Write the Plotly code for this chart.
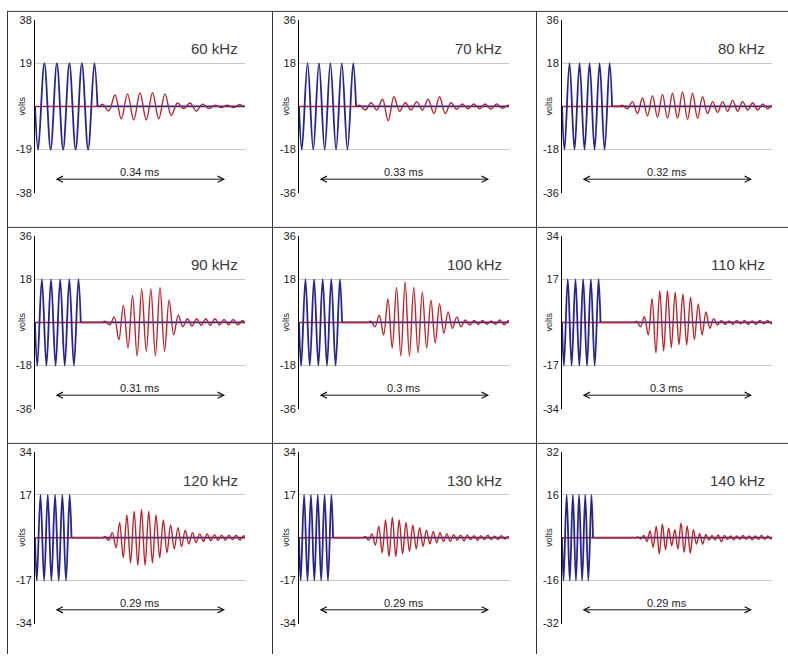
import plotly.graph_objects as go

# ---------------- data ----------------
freqs_khz = [60, 70, 80, 90, 100, 110, 120, 130, 140]
y_limits = [38, 36, 36, 36, 36, 34, 34, 34, 32]
y_half = ["19", "18", "18", "18", "18", "17", "17", "17", "16"]
delay_labels = ["0.34 ms", "0.33 ms", "0.32 ms", "0.31 ms", "0.3 ms", "0.3 ms", "0.29 ms", "0.29 ms", "0.29 ms"]
window_us = [280, 263, 262, 255, 244, 248, 240, 237, 242]
red_start_cycles = [5.4, 5.32, 6.03, 7.66, 8.33, 9.7, 9.6, 9.7, 12.2]

# transmitted burst: half-cycle peak values (volts)
blue_60 = [-19, 19, -19, 19, -19, 19, -19, 19, -19, 19]
blue_70 = [-18, 18, -18, 18, -18, 18, -18, 18, -18, 18]
blue_80 = [-18, 18, -18, 18, -18, 18, -18, 18, -18, 18]
blue_90 = [-18, 18, -18, 18, -18, 18, -18, 18, -18, 18]
blue_100 = [-18, 18, -18, 18, -18, 18, -18, 18, -18, 18]
blue_110 = [-17, 17, -17, 17, -17, 17, -17, 17, -17, 17]
blue_120 = [-17, 17, -17, 17, -17, 17, -17, 17, -17, 17]
blue_130 = [-17, 17, -17, 17, -17, 17, -17, 17, -17, 17]
blue_140 = [-16, 16, -16, 16, -16, 16, -16, 16, -16, 16]

# received signal: half-cycle peak values (volts)
red_60 = [1, -2, 5, -5.5, 5.5, -6, 6, -6, 6, -5.5, 5.5, -4, 1.5, -1, 1.5, -2, 1, -1, 0.5, -0.5, 0.5, -0.5, 0.8]
red_70 = [0.5, -1.5, 1.5, -1.5, 3, -6, 4, -2, 1.5, -1.5, 2, -1.5, 3, -3, 4, -3, 1.5, -1.2, 1, -1, 1, -1, 1, -1.2, 1, -0.8, 0.5]
red_80 = [0.5, -1, 2, -3, 3.5, -4, 4.5, -4.5, 5, -5, 5.5, -5, 6, -5.5, 5.5, -5, 4, -3, 2, -2.5, 2, -2, 2.5, -2, 2,
          -1.5, 1.5, -1.5, 1, -1, 0.5]
red_90 = [0.5, -1, 2.3, -7.2, 7.1, -10.7, 11.2, -14, 13.9, -12, 13.9, -14, 14.6, -12, 9.2, -5.2, 3, -1.8, 1.5, -1.5,
          1.5, -1.2, 1.5, -1.2, 1.5, -1, 1.2, -1, 1.2, -1, 0.8]
red_100 = [0.5, -1.8, 3, -5.2, 9.8, -10.7, 14.6, -14, 16.7, -14, 14.6, -12.7, 12.6, -10.7, 9.2, -8.6, 7.8, -4.5, 4.4,
           -2.5, 2.3, -1.8, 1, -1.1, 0.8, -0.8, 0.8, -0.8, 0.6, -0.8, 1, -1, 0.8]
red_110 = [0.5, -1.7, 2.2, -4.9, 9.3, -12, 12.5, -11.3, 12.5, -10, 11.9, -8.8, 11.2, -8.8, 9.9, -6.8, 7.3, -4.9, 4.1,
           -2.3, 1.5, -1, 0.8, -0.8, 0.6, -0.8, 0.8, -0.6, 0.8, -0.8, 0.6, -0.8, 0.8, -0.6, 0.8, -0.5]
red_120 = [0.5, -1, 2, -4, 6, -8, 9, -10, 10.5, -11, 11.3, -11, 10.5, -10, 9, -8, 7, -6, 5, -4.5, 4, -3.5, 3, -2.5,
           2, -2, 1.5, -1.5, 1.5, -1.2, 1.2, -1, 1, -1, 1, -0.8, 1, -1, 0.8]
red_130 = [0.5, -1, 1.5, -3, 4.5, -6, 7, -7.5, 8, -7.5, 7, -6.5, 6, -5.5, 5, -4.5, 4, -3.5, 3, -2.5, 2.5, -2, 2,
           -1.5, 1.5, -1.5, 1.2, -1, 1, -1.2, 1, -0.8, 0.8, -1, 0.8, -0.8, 1, -0.8, 0.6, -0.8, 0.8, -0.6, 0.5]
red_140 = [0.3, -0.5, 0.8, -1.5, 2.5, -3.7, 4.3, -6.1, 5.1, -4.5, 3.5, -3, 3, -4.3, 5.5, -5.5, 4.5, -5.9, 3, -2.4,
           1.5, -2.4, 1.2, -1, 0.8, -0.8, 1, -1.5, 0.8, -0.6, 0.6, -0.8, 0.6, -0.6, 0.8, -0.6, 0.6, -0.8, 0.6,
           -0.6, 0.8, -0.6, 0.6, -0.5]

blue_series = [blue_60, blue_70, blue_80, blue_90, blue_100, blue_110, blue_120, blue_130, blue_140]
red_series = [red_60, red_70, red_80, red_90, red_100, red_110, red_120, red_130, red_140]

# ---------------- layout geometry (pixels) ----------------
W, H = 788, 660
col_x = [(35, 245), (299, 509), (562, 772)]
row_y = [(14, 190.5), (234, 410.5), (454, 629)]

BLUE = "#25258f"
RED = "#b9252c"
FONT = "Arial, Liberation Sans, sans-serif"

fig = go.Figure()
layout = dict(
    width=W, height=H, margin=dict(l=0, r=0, t=0, b=0),
    paper_bgcolor="white", plot_bgcolor="white", showlegend=False,
    annotations=[], shapes=[],
)

for i, f in enumerate(freqs_khz):
    r, c = divmod(i, 3)
    n = "" if i == 0 else str(i + 1)
    xa, ya = "x" + n, "y" + n
    cyc = 1000.0 / f  # microseconds per cycle
    ymax = y_limits[i]

    x0, x1 = col_x[c]
    y0, y1 = row_y[r]
    layout["xaxis" + n] = dict(
        domain=[x0 / W, x1 / W], range=[0, window_us[i]], anchor=ya,
        showgrid=False, zeroline=False, showticklabels=False, showline=False, ticks="",
    )
    layout["yaxis" + n] = dict(
        domain=[1 - y1 / H, 1 - y0 / H], range=[-ymax * 1.003, ymax * 1.003], anchor=xa,
        tickvals=[-ymax, -ymax / 2, ymax / 2, ymax],
        ticktext=["-" + str(ymax), "-" + y_half[i], y_half[i], str(ymax)],
        showgrid=True, gridcolor="#c8c8c8", gridwidth=1, zeroline=False,
        showline=True, linecolor="#000000", linewidth=1, ticks="",
        tickfont=dict(family=FONT, size=11, color="#222222"),
    )

    rs = red_start_cycles[i]
    nb = len(blue_series[i])
    end_burst = nb * 0.5 * cyc

    # flat baselines (zero level) of both channels
    fig.add_trace(go.Scatter(x=[end_burst, window_us[i]], y=[0, 0], xaxis=xa, yaxis=ya, mode="lines",
                             line=dict(color=BLUE, width=1.8), hoverinfo="skip"))
    fig.add_trace(go.Scatter(x=[0, (rs - 0.25) * cyc], y=[0, 0], xaxis=xa, yaxis=ya, mode="lines",
                             line=dict(color=RED, width=1.5), hoverinfo="skip"))

    # transmitted burst (blue)
    bx = [0.0] + [(0.25 + 0.5 * k) * cyc for k in range(nb)] + [end_burst]
    by = [0.0] + list(blue_series[i]) + [0.0]
    fig.add_trace(go.Scatter(x=bx, y=by, xaxis=xa, yaxis=ya, mode="lines",
                             line=dict(color=BLUE, width=1.8, shape="spline", smoothing=1),
                             hoverinfo="skip"))

    # received signal (red)
    nr = len(red_series[i])
    rx = [(rs - 0.25) * cyc] + [(rs + 0.5 * k) * cyc for k in range(nr)] + [(rs + 0.5 * nr - 0.25) * cyc]
    ry = [0.0] + list(red_series[i]) + [0.0]
    fig.add_trace(go.Scatter(x=rx, y=ry, xaxis=xa, yaxis=ya, mode="lines",
                             line=dict(color=RED, width=1.4, shape="spline", smoothing=1),
                             hoverinfo="skip"))

    # frequency title
    layout["annotations"].append(dict(
        text=f"{f} kHz", xref=xa + " domain", yref=ya + " domain", x=0.975, y=0.835,
        xanchor="right", yanchor="middle", showarrow=False,
        font=dict(family=FONT, size=15, color="#3a3a3a")))
    # volts label
    layout["annotations"].append(dict(
        text="volts", xref=xa + " domain", yref=ya + " domain", x=0, y=0.5, xshift=-13,
        xanchor="center", yanchor="middle", textangle=-90, showarrow=False,
        font=dict(family=FONT, size=9, color="#222222")))
    # double arrow
    layout["annotations"].append(dict(
        text="", xref=xa + " domain", yref=ya + " domain", x=0.905, y=0.08,
        ax=-171, ay=0, axref="pixel", ayref="pixel", showarrow=True,
        arrowhead=5, startarrowhead=5, arrowside="end+start", arrowsize=1.2,
        arrowwidth=1, arrowcolor="#111111", standoff=0, startstandoff=0))
    # delay label
    layout["annotations"].append(dict(
        text=delay_labels[i], xref=xa + " domain", yref=ya + " domain", x=0.5, y=0.12,
        xanchor="center", yanchor="middle", showarrow=False,
        font=dict(family=FONT, size=11, color="#222222")))

# table borders
border = dict(color="#383838", width=1)
for xv in [7.5, 272.5, 536.5]:
    layout["shapes"].append(dict(type="line", xref="paper", yref="paper",
                                 x0=xv / W, x1=xv / W, y0=1 - 5 / H, y1=0, line=border))
for yv in [5.5, 225.5, 445.5]:
    layout["shapes"].append(dict(type="line", xref="paper", yref="paper",
                                 x0=7 / W, x1=1, y0=1 - yv / H, y1=1 - yv / H, line=border))

fig.update_layout(**layout)

page_fix = (
    "var gd=document.getElementById('{plot_id}');"
    "document.documentElement.style.margin='0';document.documentElement.style.padding='0';"
    "document.documentElement.style.overflow='hidden';"
    "document.body.style.margin='0';document.body.style.padding='0';document.body.style.overflow='hidden';"
    "gd.style.position='fixed';gd.style.left='0px';gd.style.top='0px';"
)
fig.write_html(
    "out.html",
    config={"displayModeBar": False, "responsive": False},
    post_script=page_fix,
)
